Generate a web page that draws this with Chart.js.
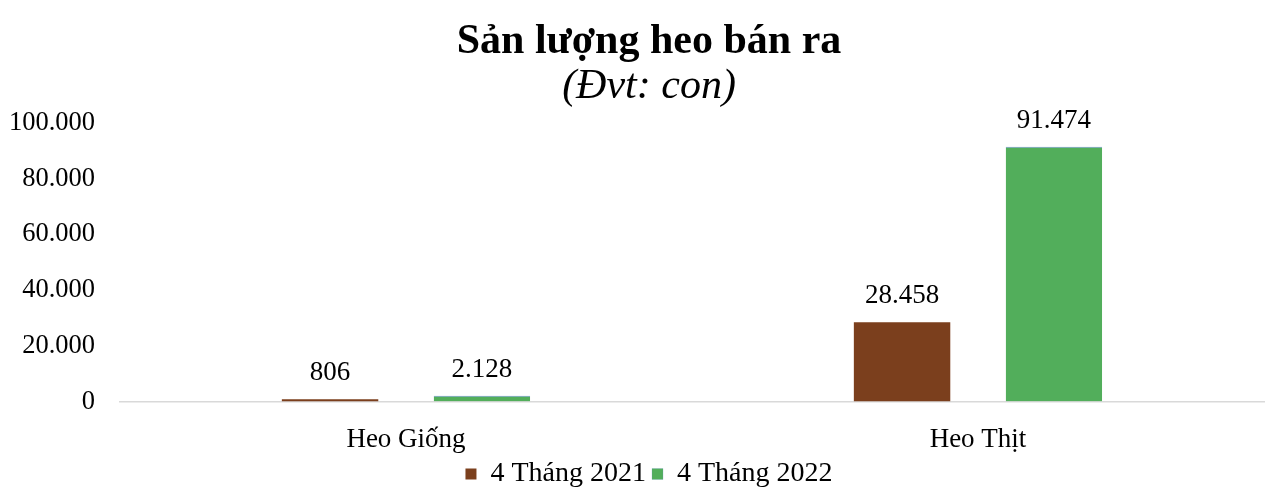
<!DOCTYPE html>
<html>
<head>
<meta charset="utf-8">
<script src="https://cdn.jsdelivr.net/npm/chart.js@4"></script>
<style>
  html, body { margin: 0; padding: 0; background: #fff; }
  #wrap { width: 1274px; height: 504px; }
</style>
</head>
<body>
<div id="wrap"><canvas id="pig-chart"></canvas></div>
<script>
const categories = ['Heo Giống', 'Heo Thịt'];
const seriesLabels = ['4 Tháng 2021', '4 Tháng 2022'];
const values2021 = [806, 28458];
const values2022 = [2128, 91474];
const yTicks = [0, 20000, 40000, 60000, 80000, 100000];

const fontFamily = '"Liberation Serif", "Times New Roman", serif';

const formatNum = (v) => String(Math.round(v)).replace(/\B(?=(\d{3})+(?!\d))/g, '.');

// draws the value above each bar
const barValueLabels = {
  id: 'barValueLabels',
  afterDatasetsDraw(chart) {
    const ctx = chart.ctx;
    ctx.save();
    ctx.font = '27px ' + fontFamily;
    ctx.fillStyle = '#000';
    ctx.textAlign = 'center';
    ctx.textBaseline = 'alphabetic';
    chart.data.datasets.forEach((ds, i) => {
      chart.getDatasetMeta(i).data.forEach((bar, j) => {
        ctx.fillText(formatNum(ds.data[j]), bar.x, bar.y - 19);
      });
    });
    ctx.restore();
  },
};

// title, subtitle and legend sit a bit right of the canvas centre in the original
const shiftHeaders = {
  id: 'shiftHeaders',
  afterLayout(chart) {
    chart.boxes.forEach((box) => {
      if (!(box instanceof Chart.Scale)) {
        box.left += 17;
        box.right += 17;
      }
    });
  },
};

const config = {
  type: 'bar',
  data: {
    labels: categories,
    datasets: [
      {
        label: seriesLabels[0],
        data: values2021,
        backgroundColor: '#7b3f1d',
        borderColor: '#7b3f1d',
        borderWidth: 0,
      },
      {
        label: seriesLabels[1],
        data: values2022,
        backgroundColor: '#52ae5b',
        borderColor: '#6f95c8',
        borderWidth: { top: 1, left: 0, right: 0, bottom: 0 },
      },
    ],
  },
  options: {
    responsive: true,
    maintainAspectRatio: false,
    animation: false,
    categoryPercentage: 0.531,
    barPercentage: 0.635,
    layout: { padding: { left: 0, right: 10, top: 0, bottom: 6 } },
    scales: {
      x: {
        grid: { display: false, drawTicks: true, tickLength: 24 },
        border: { color: '#d9d9d9', width: 1.5 },
        ticks: {
          color: '#000',
          font: { family: fontFamily, size: 27, lineHeight: 1.2 },
          padding: -2,
        },
      },
      y: {
        min: 0,
        max: 100000,
        afterBuildTicks: (axis) => {
          axis.ticks = yTicks.map((v) => ({ value: v }));
        },
        afterFit: (axis) => {
          axis.width = 120;
        },
        grid: { display: false, drawTicks: true, tickLength: 16 },
        border: { display: false },
        ticks: {
          color: '#000',
          font: { family: fontFamily, size: 26.5 },
          padding: 9,
          callback: (v) => formatNum(v),
        },
      },
    },
    plugins: {
      title: {
        display: true,
        text: 'Sản lượng heo bán ra',
        color: '#000',
        font: { family: fontFamily, size: 42, weight: 'bold', lineHeight: 1.0 },
        padding: { top: 21, bottom: 3 },
      },
      subtitle: {
        display: true,
        text: '(Đvt: con)',
        color: '#000',
        font: { family: fontFamily, size: 42, style: 'italic', lineHeight: 1.0 },
        padding: { top: 0, bottom: 15 },
      },
      legend: {
        position: 'bottom',
        labels: {
          color: '#000',
          font: { family: fontFamily, size: 28 },
          boxWidth: 11,
          boxHeight: 11,
          padding: 6,
        },
      },
      tooltip: { enabled: false },
    },
  },
  plugins: [barValueLabels, shiftHeaders],
};

new Chart(document.getElementById('pig-chart'), config);
</script>
</body>
</html>
